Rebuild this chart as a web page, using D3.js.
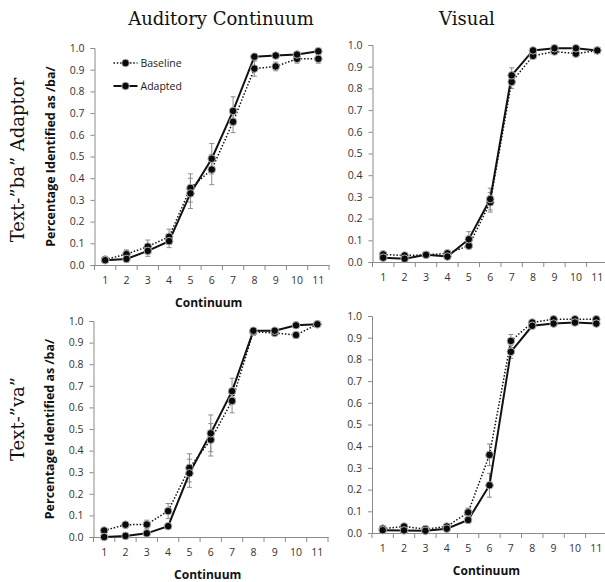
<!DOCTYPE html>
<html>
<head>
<meta charset="utf-8">
<script src="https://cdn.jsdelivr.net/npm/d3@7"></script>
<style>
  body { margin: 0; background: #fff; }
  svg { display: block; }
</style>
</head>
<body>
<div id="chart"></div>
<script>
// continuum steps and y tick values
const categories = [1, 2, 3, 4, 5, 6, 7, 8, 9, 10, 11];
const yTicks = [0, 0.1, 0.2, 0.3, 0.4, 0.5, 0.6, 0.7, 0.8, 0.9, 1.0];
const seriesNames = ["Baseline", "Adapted"];
const colTitles = ["Auditory Continuum", "Visual"];
const rowTitles = ["Text-\u201Dba\u201D Adaptor", "Text-\u201Dva\u201D"];

// text-"ba" adaptor, auditory
const audBaBase = [0.025, 0.05, 0.085, 0.13, 0.355, 0.44, 0.66, 0.905, 0.915, 0.95, 0.95];
const audBaAdap = [0.022, 0.028, 0.065, 0.11, 0.33, 0.49, 0.71, 0.96, 0.965, 0.97, 0.985];
const audBaBaseErr = [0.01, 0.02, 0.03, 0.035, 0.065, 0.07, 0.05, 0.035, 0.02, 0.02, 0.02];
const audBaAdapErr = [0.01, 0.015, 0.025, 0.03, 0.07, 0.07, 0.065, 0.015, 0.01, 0.01, 0.01];

// text-"ba" adaptor, visual
const visBaBase = [0.035, 0.03, 0.033, 0.04, 0.075, 0.275, 0.83, 0.95, 0.97, 0.96, 0.975];
const visBaAdap = [0.02, 0.015, 0.033, 0.025, 0.105, 0.29, 0.86, 0.975, 0.985, 0.985, 0.975];
const visBaBaseErr = [0.01, 0.01, 0.01, 0.01, 0.015, 0.045, 0.03, 0.01, 0.01, 0.01, 0.01];
const visBaAdapErr = [0.01, 0.01, 0.01, 0.01, 0.035, 0.05, 0.035, 0.01, 0.01, 0.01, 0.01];

// text-"va", auditory
const audVaBase = [0.03, 0.057, 0.058, 0.12, 0.32, 0.45, 0.63, 0.95, 0.945, 0.935, 0.985];
const audVaAdap = [0.0, 0.005, 0.017, 0.05, 0.295, 0.48, 0.675, 0.955, 0.955, 0.98, 0.985];
const audVaBaseErr = [0.01, 0.015, 0.02, 0.035, 0.065, 0.075, 0.055, 0.015, 0.01, 0.015, 0.005];
const audVaAdapErr = [0.005, 0.005, 0.01, 0.01, 0.065, 0.085, 0.06, 0.015, 0.01, 0.01, 0.005];

// text-"va", visual
const visVaBase = [0.02, 0.03, 0.018, 0.03, 0.095, 0.36, 0.885, 0.97, 0.985, 0.985, 0.985];
const visVaAdap = [0.013, 0.012, 0.01, 0.02, 0.06, 0.22, 0.835, 0.955, 0.965, 0.97, 0.965];
const visVaBaseErr = [0.01, 0.01, 0.01, 0.01, 0.02, 0.05, 0.03, 0.01, 0.01, 0.01, 0.01];
const visVaAdapErr = [0.005, 0.005, 0.005, 0.01, 0.015, 0.055, 0.03, 0.01, 0.01, 0.01, 0.01];

const panels = [
  { x0: 94.5, x1: 329, y0: 48, y1: 265, base: audBaBase, adap: audBaAdap, baseErr: audBaBaseErr, adapErr: audBaAdapErr, yTitle: true, xTitle: true, legend: true },
  { x0: 372.5, x1: 608, y0: 45, y1: 262, base: visBaBase, adap: visBaAdap, baseErr: visBaBaseErr, adapErr: visBaAdapErr },
  { x0: 93.5, x1: 328, y0: 321, y1: 537, base: audVaBase, adap: audVaAdap, baseErr: audVaBaseErr, adapErr: audVaAdapErr, yTitle: true, xTitle: true },
  { x0: 372, x1: 607, y0: 316, y1: 533, base: visVaBase, adap: visVaAdap, baseErr: visVaBaseErr, adapErr: visVaAdapErr, xTitle: true },
];

const W = 605, H = 582;
const sans = "'Open Sans', 'Noto Sans', sans-serif";
const serif = "'DejaVu Serif', 'Liberation Serif', serif";
const axisColor = "#8a8a8a";

let svg = d3.select("#chart").append("svg")
  .attr("width", W)
  .attr("height", H);

// column and row headings
svg.append("text").attr("x", 221).attr("y", 25).attr("text-anchor", "middle")
  .attr("font-family", serif).attr("font-size", 18).attr("fill", "#111").text(colTitles[0]);
svg.append("text").attr("x", 467).attr("y", 25).attr("text-anchor", "middle")
  .attr("font-family", serif).attr("font-size", 18).attr("fill", "#111").text(colTitles[1]);
svg.append("text").attr("transform", "translate(24,160) rotate(-90)").attr("text-anchor", "middle")
  .attr("font-family", serif).attr("font-size", 18).attr("fill", "#111").text(rowTitles[0]);
svg.append("text").attr("transform", "translate(24,419) rotate(-90)").attr("text-anchor", "middle")
  .attr("font-family", serif).attr("font-size", 18).attr("fill", "#111").text(rowTitles[1]);

panels.forEach(function (p) {
  let x = d3.scaleBand().domain(categories).range([p.x0, p.x1]);
  let y = d3.scaleLinear().domain([0, 1]).range([p.y1, p.y0]);
  let g = svg.append("g");

  // y axis
  let yAxis = g.append("g")
    .attr("transform", `translate(${p.x0},0)`)
    .call(d3.axisLeft(y).tickValues(yTicks).tickSize(4).tickPadding(6).tickFormat(d3.format(".1f")));
  yAxis.select(".domain").attr("stroke", axisColor);
  yAxis.selectAll(".tick line").attr("stroke", axisColor);
  yAxis.selectAll("text").attr("font-family", sans).attr("font-size", 10.5).attr("fill", "#333");

  // x axis: labels at band centres, ticks at band edges
  let xAxis = g.append("g")
    .attr("transform", `translate(0,${p.y1})`)
    .call(d3.axisBottom(x).tickSize(0).tickPadding(12));
  xAxis.select(".domain").attr("stroke", axisColor);
  xAxis.selectAll("text").attr("font-family", sans).attr("font-size", 10.5).attr("fill", "#333");
  let edges = categories.map((c) => x(c)).concat([x.range()[1]]);
  g.selectAll(".edge").data(edges).join("line")
    .attr("x1", (d) => d).attr("x2", (d) => d)
    .attr("y1", p.y1).attr("y2", p.y1 + 5)
    .attr("stroke", axisColor);

  if (p.xTitle) {
    g.append("text").attr("x", (p.x0 + p.x1) / 2 - 3).attr("y", p.y1 + 42)
      .attr("text-anchor", "middle").attr("font-family", sans).attr("font-weight", "bold")
      .attr("font-size", 12).attr("fill", "#111").text("Continuum");
  }
  if (p.yTitle) {
    g.append("text")
      .attr("transform", `translate(${p.x0 - 40},${(p.y0 + p.y1) / 2}) rotate(-90)`)
      .attr("text-anchor", "middle").attr("font-family", sans).attr("font-weight", "bold")
      .attr("font-size", 12.5).attr("fill", "#111").text("Percentage Identified as /ba/");
  }

  let cx = (i) => x(categories[i]) + x.bandwidth() / 2;

  // error bars
  [[p.base, p.baseErr], [p.adap, p.adapErr]].forEach(function (s) {
    let vals = s[0], errs = s[1];
    let eg = g.append("g").attr("stroke", "#8c8c8c").attr("stroke-width", 1);
    eg.selectAll(".v").data(vals).join("line")
      .attr("x1", (d, i) => cx(i)).attr("x2", (d, i) => cx(i))
      .attr("y1", (d, i) => y(d - errs[i])).attr("y2", (d, i) => y(d + errs[i]));
    eg.selectAll(".t").data(vals).join("line").attr("class", "t")
      .attr("x1", (d, i) => cx(i) - 2.5).attr("x2", (d, i) => cx(i) + 2.5)
      .attr("y1", (d, i) => y(d + errs[i])).attr("y2", (d, i) => y(d + errs[i]));
    eg.selectAll(".b").data(vals).join("line").attr("class", "b")
      .attr("x1", (d, i) => cx(i) - 2.5).attr("x2", (d, i) => cx(i) + 2.5)
      .attr("y1", (d, i) => y(d - errs[i])).attr("y2", (d, i) => y(d - errs[i]));
  });

  let line = d3.line().x((d, i) => cx(i)).y((d) => y(d));

  g.append("path").datum(p.base)
    .attr("fill", "none").attr("stroke", "#111").attr("stroke-width", 1.5)
    .attr("stroke-dasharray", "1.5,1.8").attr("d", line);
  g.append("path").datum(p.adap)
    .attr("fill", "none").attr("stroke", "#111").attr("stroke-width", 2)
    .attr("d", line);

  [p.base, p.adap].forEach(function (vals) {
    g.append("g").selectAll("circle").data(vals).join("circle")
      .attr("cx", (d, i) => cx(i)).attr("cy", (d) => y(d)).attr("r", 3.8)
      .attr("fill", "#0a0a0a").attr("stroke", "#b0b0b0").attr("stroke-width", 1);
  });

  if (p.legend) {
    let lg = g.append("g");
    seriesNames.forEach(function (name, i) {
      let ly = p.y0 + 15 + i * 23;
      lg.append("line").attr("x1", p.x0 + 19).attr("x2", p.x0 + 43).attr("y1", ly).attr("y2", ly)
        .attr("stroke", "#111").attr("stroke-width", i === 0 ? 1.5 : 2)
        .attr("stroke-dasharray", i === 0 ? "1.5,1.8" : null);
      lg.append("circle").attr("cx", p.x0 + 31).attr("cy", ly).attr("r", 3.8)
        .attr("fill", "#0a0a0a").attr("stroke", "#b0b0b0").attr("stroke-width", 1);
      lg.append("text").attr("x", p.x0 + 46).attr("y", ly + 3.5)
        .attr("font-family", sans).attr("font-size", 10.5).attr("fill", "#222").text(name);
    });
  }
});
</script>
</body>
</html>
